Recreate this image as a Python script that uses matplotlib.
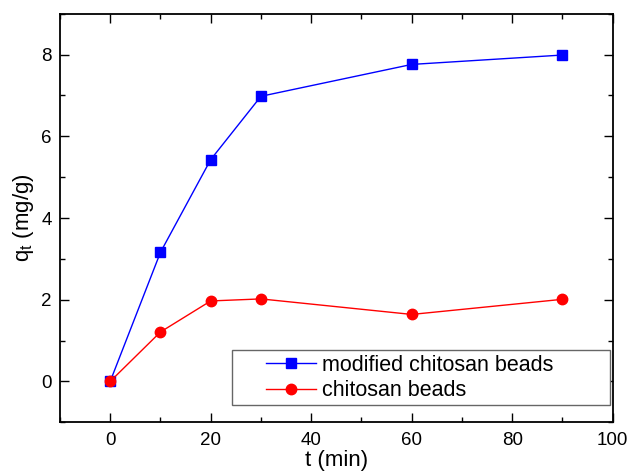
import matplotlib
matplotlib.use("Agg")
import matplotlib.pyplot as plt
from matplotlib.patches import Rectangle
from matplotlib.ticker import MultipleLocator

plt.rcParams['font.family'] = ['Liberation Sans', 'DejaVu Sans']

t_min = [0, 10, 20, 30, 60, 90]
q_modified = [0, 3.16, 5.43, 6.98, 7.76, 7.99]
q_chitosan = [0, 1.21, 1.97, 2.02, 1.64, 2.01]

fig = plt.figure(figsize=(6.31, 4.75), dpi=100)
ax = fig.add_axes([0.095, 0.111, 0.876, 0.860])

ax.plot(t_min, q_modified, '-s', color='#0000ff', lw=1, ms=7,
        label='modified chitosan beads')
ax.plot(t_min, q_chitosan, '-o', color='#ff0000', lw=1, ms=7.5,
        label='chitosan beads')

ax.set_xlim(-10, 100)
ax.set_ylim(-1, 9)
ax.xaxis.set_major_locator(MultipleLocator(20))
ax.xaxis.set_minor_locator(MultipleLocator(10))
ax.yaxis.set_major_locator(MultipleLocator(2))
ax.yaxis.set_minor_locator(MultipleLocator(1))
ax.tick_params(which='both', direction='in', top=True, right=True, labelsize=13.5, width=1)
ax.tick_params(which='major', length=6.5)
ax.tick_params(which='minor', length=3.5)
ax.tick_params(axis='x', pad=7)
ax.tick_params(axis='y', pad=6)
for s in ax.spines.values():
    s.set_linewidth(1.3)

ax.set_xlabel('t (min)', fontsize=16, labelpad=1)
ax.set_ylabel('q$_\\mathregular{t}$ (mg/g)', fontsize=16, labelpad=4)

# legend box drawn separately, it is much wider than its contents
ax.add_patch(Rectangle((0.311, 0.042), 0.684, 0.136, transform=ax.transAxes,
                       facecolor='white', edgecolor='#666666', lw=1, zorder=4))
leg = ax.legend(loc='center left', bbox_to_anchor=(0.354, 0.108), frameon=False,
                fontsize=15.5, borderpad=0, handlelength=2.3, handletextpad=0.3,
                labelspacing=0.2)
leg.set_zorder(5)

fig.savefig('out.png', dpi=100)
